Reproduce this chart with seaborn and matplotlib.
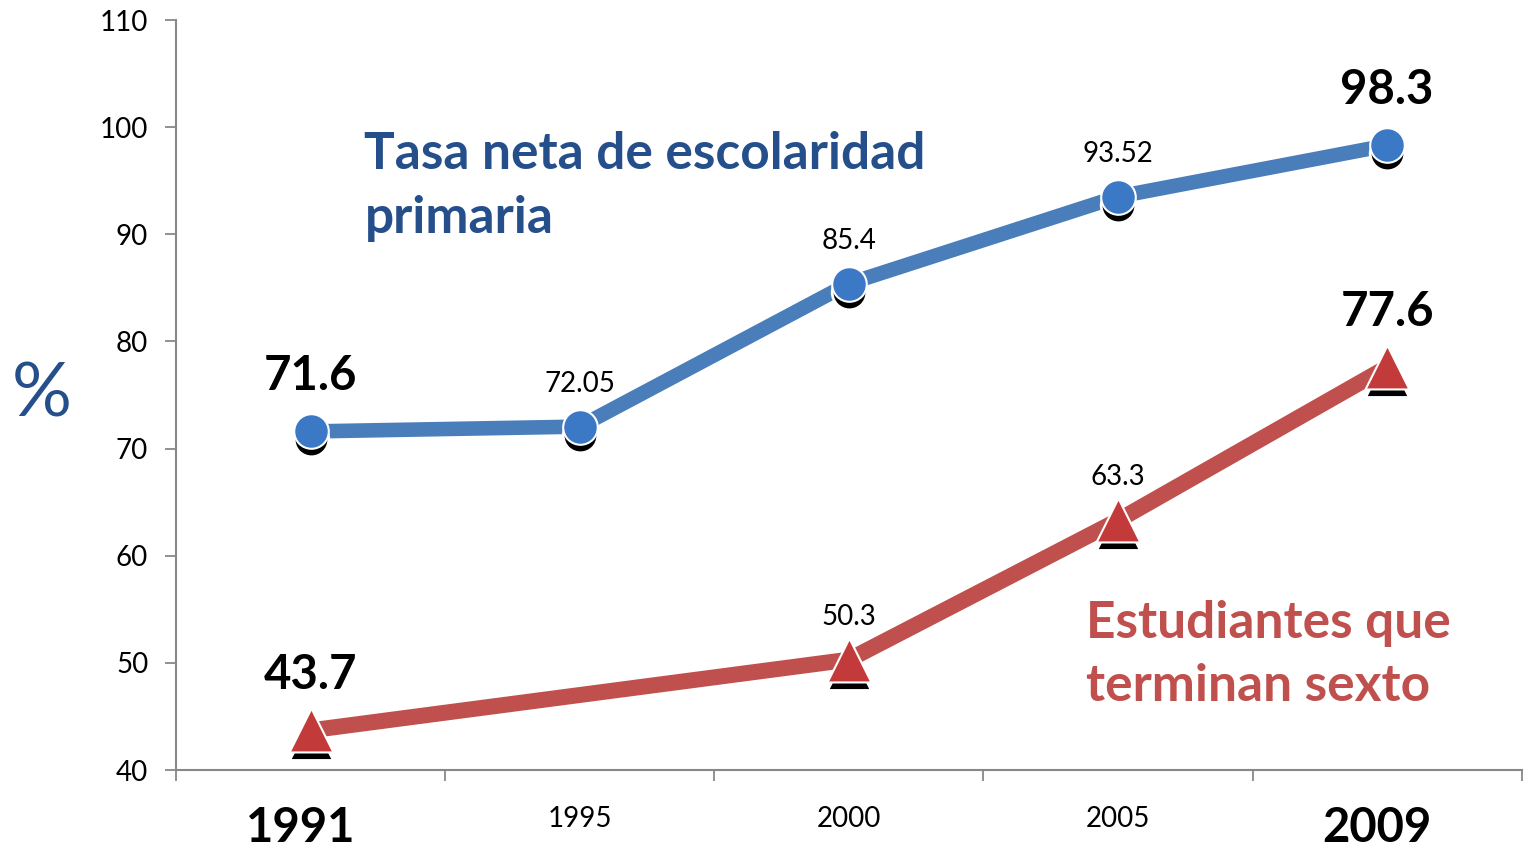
import numpy as np
import pandas as pd
import seaborn as sns
import matplotlib
matplotlib.use('Agg')
import matplotlib.pyplot as plt
import matplotlib.transforms as mtransforms
from matplotlib.ticker import FixedLocator

# data
years = ['1991', '1995', '2000', '2005', '2009']
tasa_neta = [71.6, 72.05, 85.4, 93.52, 98.3]
sexto_years = ['1991', '2000', '2005', '2009']
sexto = [43.7, 50.3, 63.3, 77.6]

blue_line = '#4a7ebb'
blue_dot = '#3b78c6'
red_line = '#c0504d'
red_dot = '#c23a3a'
title_blue = '#254f8a'

sns.set_theme(style='white')
plt.rcParams['font.family'] = ['Lato', 'DejaVu Sans']

fig = plt.figure(figsize=(15.24, 8.55), dpi=100)
ax = fig.add_axes([0.1155, 0.0994, 0.883, 0.8772])

pos = {y: i for i, y in enumerate(years)}
df_blue = pd.DataFrame({'x': [pos[y] for y in years], 'v': tasa_neta})
df_red = pd.DataFrame({'x': [pos[y] for y in sexto_years], 'v': sexto})

sns.lineplot(data=df_blue, x='x', y='v', ax=ax, color=blue_line, linewidth=10.5,
             zorder=2, solid_capstyle='butt')
sns.lineplot(data=df_red, x='x', y='v', ax=ax, color=red_line, linewidth=11.5,
             zorder=2, solid_capstyle='butt')

# marker shadows, shifted down a little
shadow = mtransforms.offset_copy(ax.transData, fig=fig, x=0, y=-8, units='dots')
ax.scatter(df_blue['x'], df_blue['v'], s=620, marker='o', color='black',
           edgecolor='white', linewidth=2, transform=shadow, zorder=3)
ax.scatter(df_red['x'], df_red['v'], s=1000, marker='^', color='black',
           edgecolor='white', linewidth=2, transform=shadow, zorder=3)
ax.scatter(df_blue['x'], df_blue['v'], s=620, marker='o', color=blue_dot,
           edgecolor='white', linewidth=1.5, zorder=4)
ax.scatter(df_red['x'], df_red['v'], s=1000, marker='^', color=red_dot,
           edgecolor='white', linewidth=1.5, zorder=4)

# value labels
def label(x, v, txt, big):
    if big:
        ax.annotate(txt, (x, v), xytext=(0, 40), textcoords='offset points',
                    ha='center', va='center', fontsize=34, fontweight='bold',
                    color='black', zorder=5)
    else:
        ax.annotate(txt, (x, v), xytext=(0, 31), textcoords='offset points',
                    ha='center', va='center', fontsize=20, color='black', zorder=5)

blue_txt = ['71.6', '72.05', '85.4', '93.52', '98.3']
red_txt = ['43.7', '50.3', '63.3', '77.6']
for i, (x, v) in enumerate(zip(df_blue['x'], df_blue['v'])):
    label(x, v, blue_txt[i], i in (0, 4))
for i, (x, v) in enumerate(zip(df_red['x'], df_red['v'])):
    label(x, v, red_txt[i], i in (0, 3))

# series names, one text per line
def two_lines(x, y, l1, l2, color):
    for k, s in enumerate((l1, l2)):
        ax.annotate(s, (x, y), xytext=(0, -45.5 * k), textcoords='offset points',
                    ha='left', va='top', fontsize=37, fontweight='bold', color=color)

two_lines(0.2, 99.6, 'Tasa neta de escolaridad', 'primaria', title_blue)
two_lines(2.88, 55.9, 'Estudiantes que', 'terminan sexto', red_line)

# axes
ax.set_xlim(-0.5, 4.5)
ax.set_ylim(40, 110)
ax.set_yticks(np.arange(40, 111, 10))
ax.set_xticks(range(len(years)))
ax.set_xticklabels(years)
ax.xaxis.set_minor_locator(FixedLocator(np.arange(-0.5, 4.6, 1)))
ax.tick_params(axis='x', which='major', length=0, pad=26, labelsize=20, labelcolor='black')
ax.tick_params(axis='x', which='minor', length=8, width=1.3, color='#888888', direction='out', bottom=True)
ax.tick_params(axis='y', length=8, width=1.3, color='#888888', direction='out', left=True,
               labelsize=20, pad=12, labelcolor='black')
for i, t in enumerate(ax.get_xticklabels()):
    if i in (0, 4):
        t.set_fontsize(34)
        t.set_fontweight('bold')
        # the big year labels sit a bit left of the category centre
        t.set_transform(t.get_transform() + mtransforms.ScaledTranslation(-0.1, 0, fig.dpi_scale_trans))
ax.set_xlabel('')
ax.set_ylabel('%', fontsize=54, color=title_blue, rotation=0, va='center')
ax.yaxis.set_label_coords(-0.1, 0.5)

for s in ['top', 'right']:
    ax.spines[s].set_visible(False)
for s in ['left', 'bottom']:
    ax.spines[s].set_color('#888888')
    ax.spines[s].set_linewidth(1.5)
ax.grid(False)

fig.savefig('out.png', dpi=100)
